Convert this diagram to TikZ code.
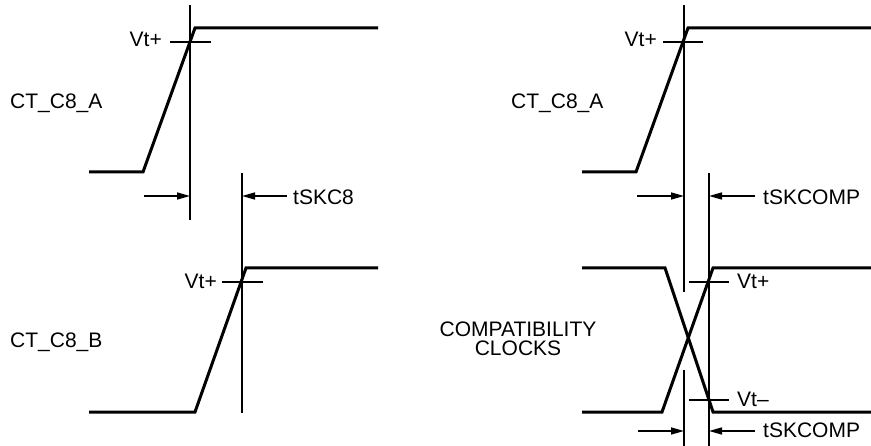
\documentclass[tikz,border=0pt]{standalone}
\usepackage{fontspec}
\setmainfont{Liberation Sans}
\usetikzlibrary{arrows.meta}
\begin{document}
\begin{tikzpicture}[x=1bp,y=-1bp,
  sig/.style={line width=3bp,line join=miter},
  thin/.style={line width=1.5bp},
  dim/.style={line width=1.5bp,-{Triangle[length=13bp,width=7bp]}},
  lbl/.style={inner sep=0pt,font=\fontsize{21bp}{20bp}\selectfont},
  lblL/.style={lbl,anchor=base west},
  lblR/.style={lbl,anchor=base east}]
\useasboundingbox (0,0) rectangle (871,446);
% ---------- left panel ----------
\draw[sig] (89,172) -- (143,172) -- (195,28) -- (378,28);
\draw[sig] (89,412) -- (195,412) -- (246,268) -- (378,268);
\coordinate (LV1t) at (190,5);   \coordinate (LV1b) at (190,220);
\coordinate (LV2t) at (242,173); \coordinate (LV2b) at (242,413);
\draw[thin] (LV1t) -- (LV1b);
\draw[thin] (LV2t) -- (LV2b);
\draw[thin] (170,42) -- (211,42);
\draw[thin] (222,282) -- (263,282);
\coordinate (LA1s) at (144,196); \coordinate (LA1e) at (190,196);
\coordinate (LA2s) at (287,196); \coordinate (LA2e) at (242,196);
\draw[dim] (LA1s) -- (LA1e);
\draw[dim] (LA2s) -- (LA2e);
\node[lblL] (ctA) at (10,109) {CT\_C8\_A};
\node[lblL] (ctB) at (10,348) {CT\_C8\_B};
\node[lblR] (vtA) at (162,47) {Vt+};
\node[lblR] (vtB) at (217,289) {Vt+};
\node[lblL] (tsk8) at (293,205) {tSKC8};
% ---------- right panel ----------
\draw[sig] (582,172) -- (636,172) -- (688,28) -- (871,28);
\draw[sig] (582,268) -- (665,268) -- (713,412) -- (871,412);
\draw[sig] (582,412) -- (662,412) -- (713,268) -- (871,268);
\draw[thin] (684,5) -- (684,292);
\draw[thin] (684,370) -- (684,446);
\draw[thin] (709,173) -- (709,446);
\draw[thin] (663,42) -- (703,42);
\draw[thin] (689,282) -- (729,282);
\draw[thin] (689,400) -- (729,400);
\coordinate (RA1s) at (637,196); \coordinate (RA1e) at (684,196);
\coordinate (RA2s) at (755,196); \coordinate (RA2e) at (709,196);
\coordinate (RA3s) at (638,431); \coordinate (RA3e) at (684,431);
\coordinate (RA4s) at (755,431); \coordinate (RA4e) at (709,431);
\draw[dim] (RA1s) -- (RA1e);
\draw[dim] (RA2s) -- (RA2e);
\draw[dim] (RA3s) -- (RA3e);
\draw[dim] (RA4s) -- (RA4e);
\node[lblL] (ctA2) at (511,109) {CT\_C8\_A};
\node[lblR] (vtA2) at (657,47) {Vt+};
\node[lblL] (tskc1) at (763,205) {tSKCOMP};
\node[lbl,anchor=base] (comp) at (518,337) {COMPATIBILITY};
\node[lbl,anchor=base] (clk) at (518,356) {CLOCKS};
\node[lblL] (vtp) at (737,289) {Vt+};
\node[lblL] (vtm) at (737,406) {Vt–};
\node[lblL] (tskc2) at (763,437) {tSKCOMP};
\end{tikzpicture}
\end{document}
